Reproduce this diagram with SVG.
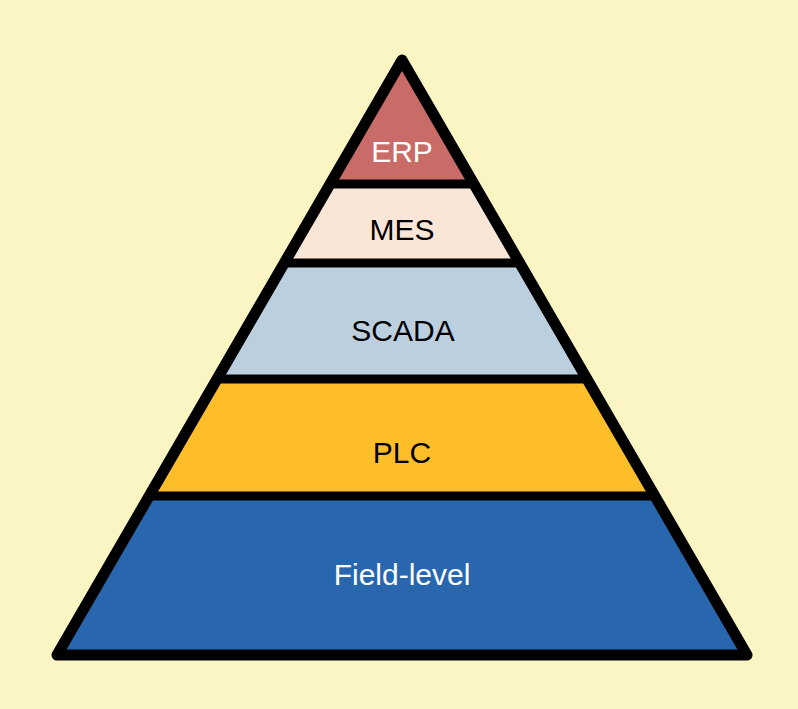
<svg xmlns="http://www.w3.org/2000/svg" width="798" height="709" viewBox="0 0 798 709">
<style>
.lbl{font-family:"Liberation Sans",Arial,sans-serif;font-size:30px;text-anchor:middle}
.w{fill:#ffffff}
.b{fill:#000000}
.edge{fill:none;stroke:#000;stroke-linejoin:round;stroke-linecap:round}
</style>
<rect width="798" height="709" fill="#FBF5C4"/>
<g id="field"><polygon points="149.2,496 654.8,496 747,655 57,655" fill="#2866AE"/><text class="lbl w" x="402" y="585">Field-level</text></g>
<g id="plc"><polygon points="217,379 587,379 654.8,496 149.2,496" fill="#FDBE2A"/><text class="lbl b" x="402" y="463">PLC</text></g>
<g id="scada"><polygon points="284.3,263 519.7,263 587,379 217,379" fill="#BCCFDF"/><text class="lbl b" x="403" y="341">SCADA</text></g>
<g id="mes"><polygon points="330.1,184 473.9,184 519.7,263 284.3,263" fill="#F9E6D7"/><text class="lbl b" x="402" y="240">MES</text></g>
<g id="erp"><polygon points="402,60 473.9,184 330.1,184" fill="#C96C68"/><text class="lbl w" x="402" y="162">ERP</text></g>
<g id="connectors">
<line class="edge" x1="330.1" y1="184" x2="473.9" y2="184" stroke-width="9"/>
<line class="edge" x1="284.3" y1="263" x2="519.7" y2="263" stroke-width="9"/>
<line class="edge" x1="217" y1="379" x2="587" y2="379" stroke-width="9"/>
<line class="edge" x1="149.2" y1="496" x2="654.8" y2="496" stroke-width="9"/>
<polygon class="edge" points="402,60 747,655 57,655" stroke-width="11"/>
</g>
</svg>
